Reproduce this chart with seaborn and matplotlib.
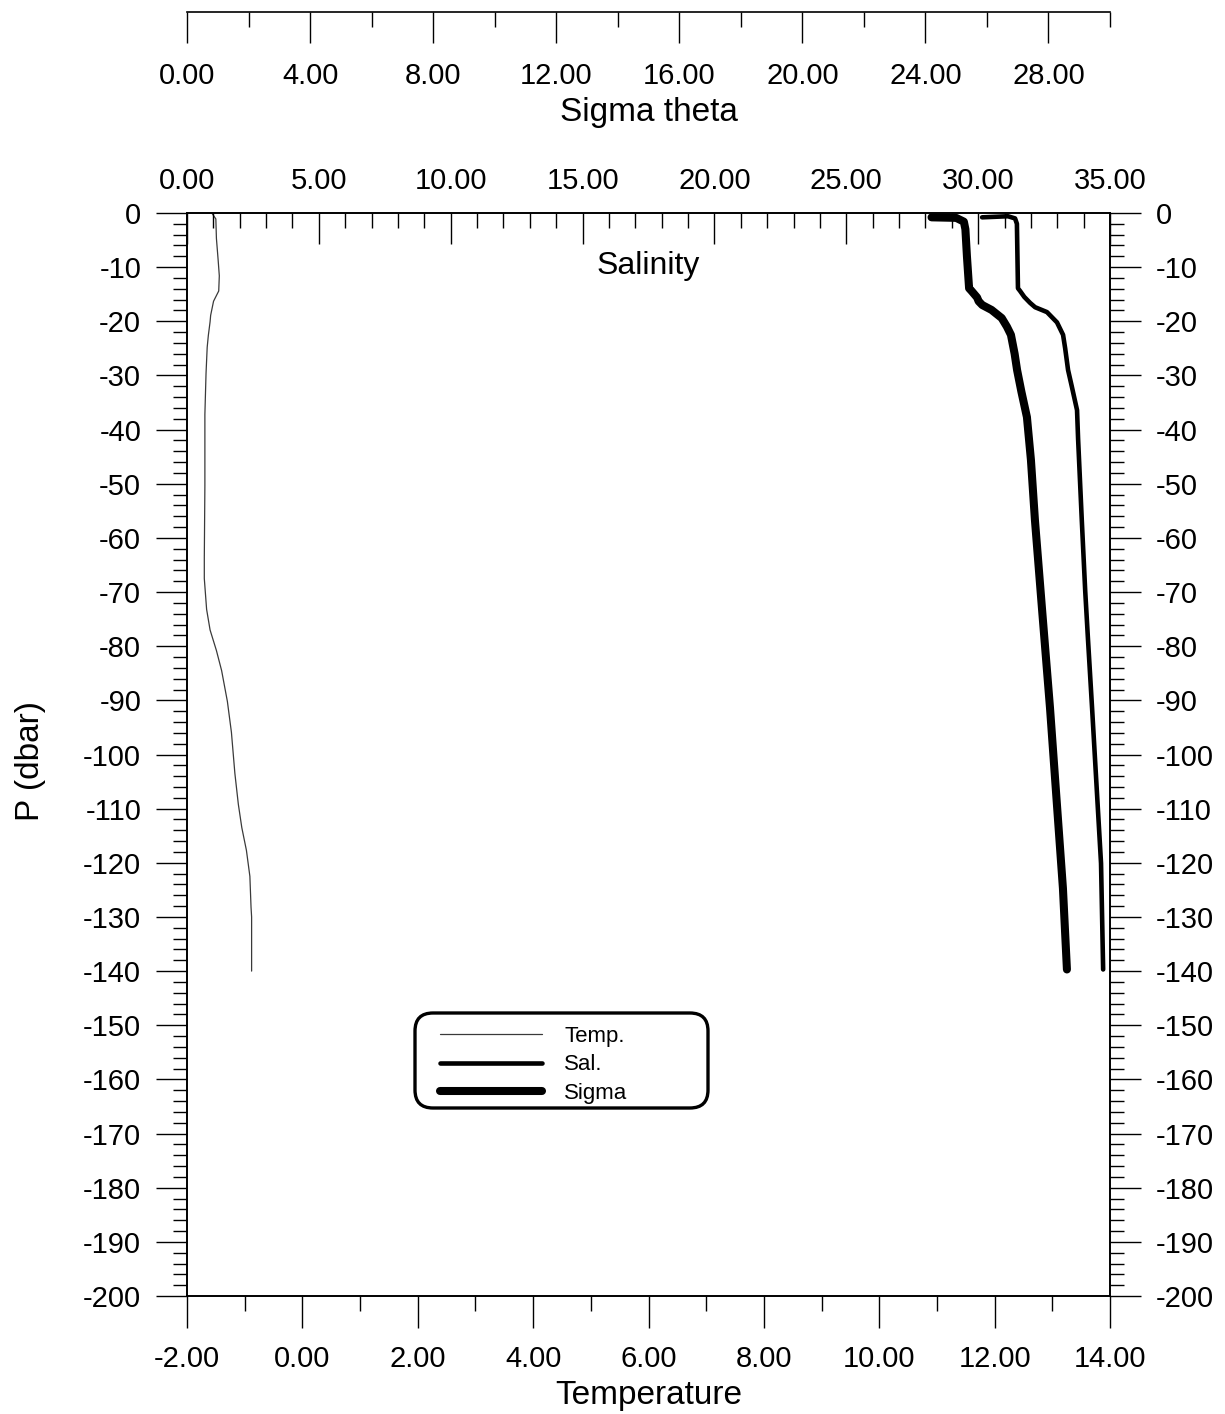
import matplotlib
matplotlib.use("Agg")
import matplotlib.pyplot as plt
import seaborn as sns
from matplotlib.ticker import MultipleLocator, FormatStrFormatter
from matplotlib.lines import Line2D
from matplotlib.patches import FancyBboxPatch
from matplotlib.transforms import IdentityTransform

# ── Profile data ──────────────────────────────────────────────────────────────
temp_p = [0, -1.1, -4.7, -8.7, -11.6, -14.4, -16.3, -18.9, -20.1, -22.6, -24.8,
          -29.6, -37.2, -50.4, -63.7, -67.5, -73.2, -77.0, -80.8, -84.5, -90.2,
          -95.9, -103.5, -109.2, -113.5, -117.7, -122.5, -128.2, -130.0, -140.0]
temp_v = [-1.57, -1.50, -1.49, -1.46, -1.44, -1.45, -1.54, -1.59, -1.60, -1.63, -1.65,
          -1.67, -1.69, -1.69, -1.70, -1.70, -1.66, -1.60, -1.49, -1.40, -1.30,
          -1.23, -1.17, -1.11, -1.05, -0.97, -0.91, -0.89, -0.88, -0.88]

sal_p = [-0.8, -0.6, -1.0, -2.0, -8.0, -13.9, -14.4, -15.5, -16.6, -17.4, -18.3,
         -20.2, -22.5, -25.0, -29.0, -32.0, -36.4, -41.7, -56.7, -69.8, -78.3,
         -91.4, -108.3, -120.1, -139.7]
sal_v = [30.15, 31.13, 31.40, 31.47, 31.49, 31.51, 31.59, 31.75, 31.97, 32.16, 32.61,
         32.99, 33.22, 33.30, 33.41, 33.55, 33.75, 33.79, 33.93, 34.06, 34.16,
         34.32, 34.52, 34.66, 34.74]

sig_p = [-0.8, -0.9, -1.6, -3.0, -8.0, -13.9, -14.4, -15.6, -16.3, -17.0, -17.9,
         -19.4, -21.0, -22.5, -26.0, -29.0, -33.0, -37.7, -45.6, -56.7, -73.1,
         -91.4, -113.6, -124.7, -139.7]
sig_v = [24.20, 25.00, 25.25, 25.30, 25.35, 25.42, 25.50, 25.68, 25.73, 25.85, 26.15,
         26.48, 26.65, 26.78, 26.90, 26.98, 27.12, 27.30, 27.43, 27.56, 27.79,
         28.05, 28.33, 28.47, 28.60]

legend_labels = ["Temp.", "Sal.", "Sigma"]

# ── Figure layout (pixels) ────────────────────────────────────────────────────
sns.set_theme(style="white")
plt.rcParams["font.family"] = ["Liberation Sans", "DejaVu Sans"]
plt.rcParams["axes.unicode_minus"] = False
plt.rcParams["text.color"] = "black"
plt.rcParams["axes.labelcolor"] = "black"
plt.rcParams["xtick.color"] = "black"
plt.rcParams["ytick.color"] = "black"

W, H = 1225, 1414
L, R, T, B = 187, 1110, 213, 1296
fig = plt.figure(figsize=(W / 100, H / 100), dpi=100)
ax = fig.add_axes([L / W, 1 - B / H, (R - L) / W, (B - T) / H])

# temperature on the main axes
sns.lineplot(x=temp_v, y=temp_p, sort=False, estimator=None, ax=ax,
             color="#3a3a3a", linewidth=0.9)
ax.set_xlim(-2, 14)
ax.set_ylim(-200, 0)

# salinity on a top twin
ax_sal = ax.twiny()
sns.lineplot(x=sal_v, y=sal_p, sort=False, estimator=None, ax=ax_sal,
             color="black", linewidth=3.3, solid_joinstyle="round")
ax_sal.set_xlim(0, 35)
ax_sal.set_ylim(-200, 0)

# sigma on a hidden twin (its scale is drawn separately at the very top)
ax_sg = ax.twiny()
sns.lineplot(x=sig_v, y=sig_p, sort=False, estimator=None, ax=ax_sg,
             color="black", linewidth=5.8, solid_joinstyle="round")
ax_sg.set_xlim(0, 30)
ax_sg.set_ylim(-200, 0)
ax_sg.set_axis_off()

for a in (ax, ax_sal):
    for s in a.spines.values():
        s.set_color("black")
        s.set_linewidth(1.2)

# ── Ticks ────────────────────────────────────────────────────────────────────
FS = 21
ax.xaxis.set_major_locator(MultipleLocator(2))
ax.xaxis.set_minor_locator(MultipleLocator(1))
ax.xaxis.set_major_formatter(FormatStrFormatter("%.2f"))
ax.tick_params(axis="x", which="major", direction="out", length=23, width=1,
               bottom=True, top=False, labelsize=FS, pad=12)
ax.tick_params(axis="x", which="minor", direction="out", length=11, width=1,
               bottom=True, top=False)

ax.yaxis.set_major_locator(MultipleLocator(10))
ax.yaxis.set_minor_locator(MultipleLocator(2))
ax.yaxis.set_major_formatter(FormatStrFormatter("%d"))
ax.tick_params(axis="y", which="major", direction="out", length=22, width=1,
               left=True, right=True, labelleft=True, labelright=True,
               labelsize=FS, pad=11)
ax.tick_params(axis="y", which="minor", direction="out", length=10, width=1,
               left=True, right=True)

ax_sal.xaxis.set_major_locator(MultipleLocator(5))
ax_sal.xaxis.set_minor_locator(MultipleLocator(1))
ax_sal.xaxis.set_major_formatter(FormatStrFormatter("%.2f"))
ax_sal.tick_params(axis="x", which="major", direction="in", length=22, width=1,
                   top=True, bottom=False, labeltop=True, labelbottom=False,
                   labelsize=FS, pad=13)
ax_sal.tick_params(axis="x", which="minor", direction="in", length=11, width=1,
                   top=True, bottom=False)

ax.set_xlabel("Temperature", fontsize=24, labelpad=5)
ax.set_ylabel("")
ax_sal.set_xlabel("")
ax.text(0.5, 0.951, "Salinity", transform=ax.transAxes, fontsize=23,
        ha="center", va="center")
fig.text(30 / W, 1 - 761 / H, "P (dbar)", rotation=90, fontsize=24,
         ha="center", va="center")

# ── Sigma theta scale at the top ─────────────────────────────────────────────
ax_top = fig.add_axes([L / W, 1 - 12 / H, (R - L) / W, 0.0001])
ax_top.patch.set_visible(False)
ax_top.set_xlim(0, 30)
for side in ("left", "right", "top"):
    ax_top.spines[side].set_visible(False)
ax_top.spines["bottom"].set_color("black")
ax_top.spines["bottom"].set_linewidth(1.2)
ax_top.set_yticks([])
ax_top.xaxis.set_major_locator(MultipleLocator(4))
ax_top.xaxis.set_minor_locator(MultipleLocator(2))
ax_top.xaxis.set_major_formatter(FormatStrFormatter("%.2f"))
ax_top.tick_params(axis="x", which="major", direction="out", length=22, width=1,
                   bottom=True, labelbottom=True, labelsize=FS, pad=14)
ax_top.tick_params(axis="x", which="minor", direction="out", length=11, width=1,
                   bottom=True)
ax_top.set_xlabel("Sigma theta", fontsize=24, labelpad=5)

# ── Legend ───────────────────────────────────────────────────────────────────
box = FancyBboxPatch((415, H - 1108), 293, 95,
                     boxstyle="round,pad=0,rounding_size=18",
                     transform=IdentityTransform(), fill=False,
                     edgecolor="black", linewidth=2.4)
fig.add_artist(box)
handles = [Line2D([], [], color="#3a3a3a", lw=0.9),
           Line2D([], [], color="black", lw=3.3, solid_capstyle="round"),
           Line2D([], [], color="black", lw=5.8, solid_capstyle="round")]
fig.legend(handles, legend_labels, loc="upper left",
           bbox_to_anchor=(440 / W, 1 - 1026 / H), bbox_transform=fig.transFigure,
           frameon=False, fontsize=16, handlelength=4.6, handletextpad=1.0,
           labelspacing=0.33, borderpad=0, borderaxespad=0)

fig.savefig("out.png", dpi=100)
